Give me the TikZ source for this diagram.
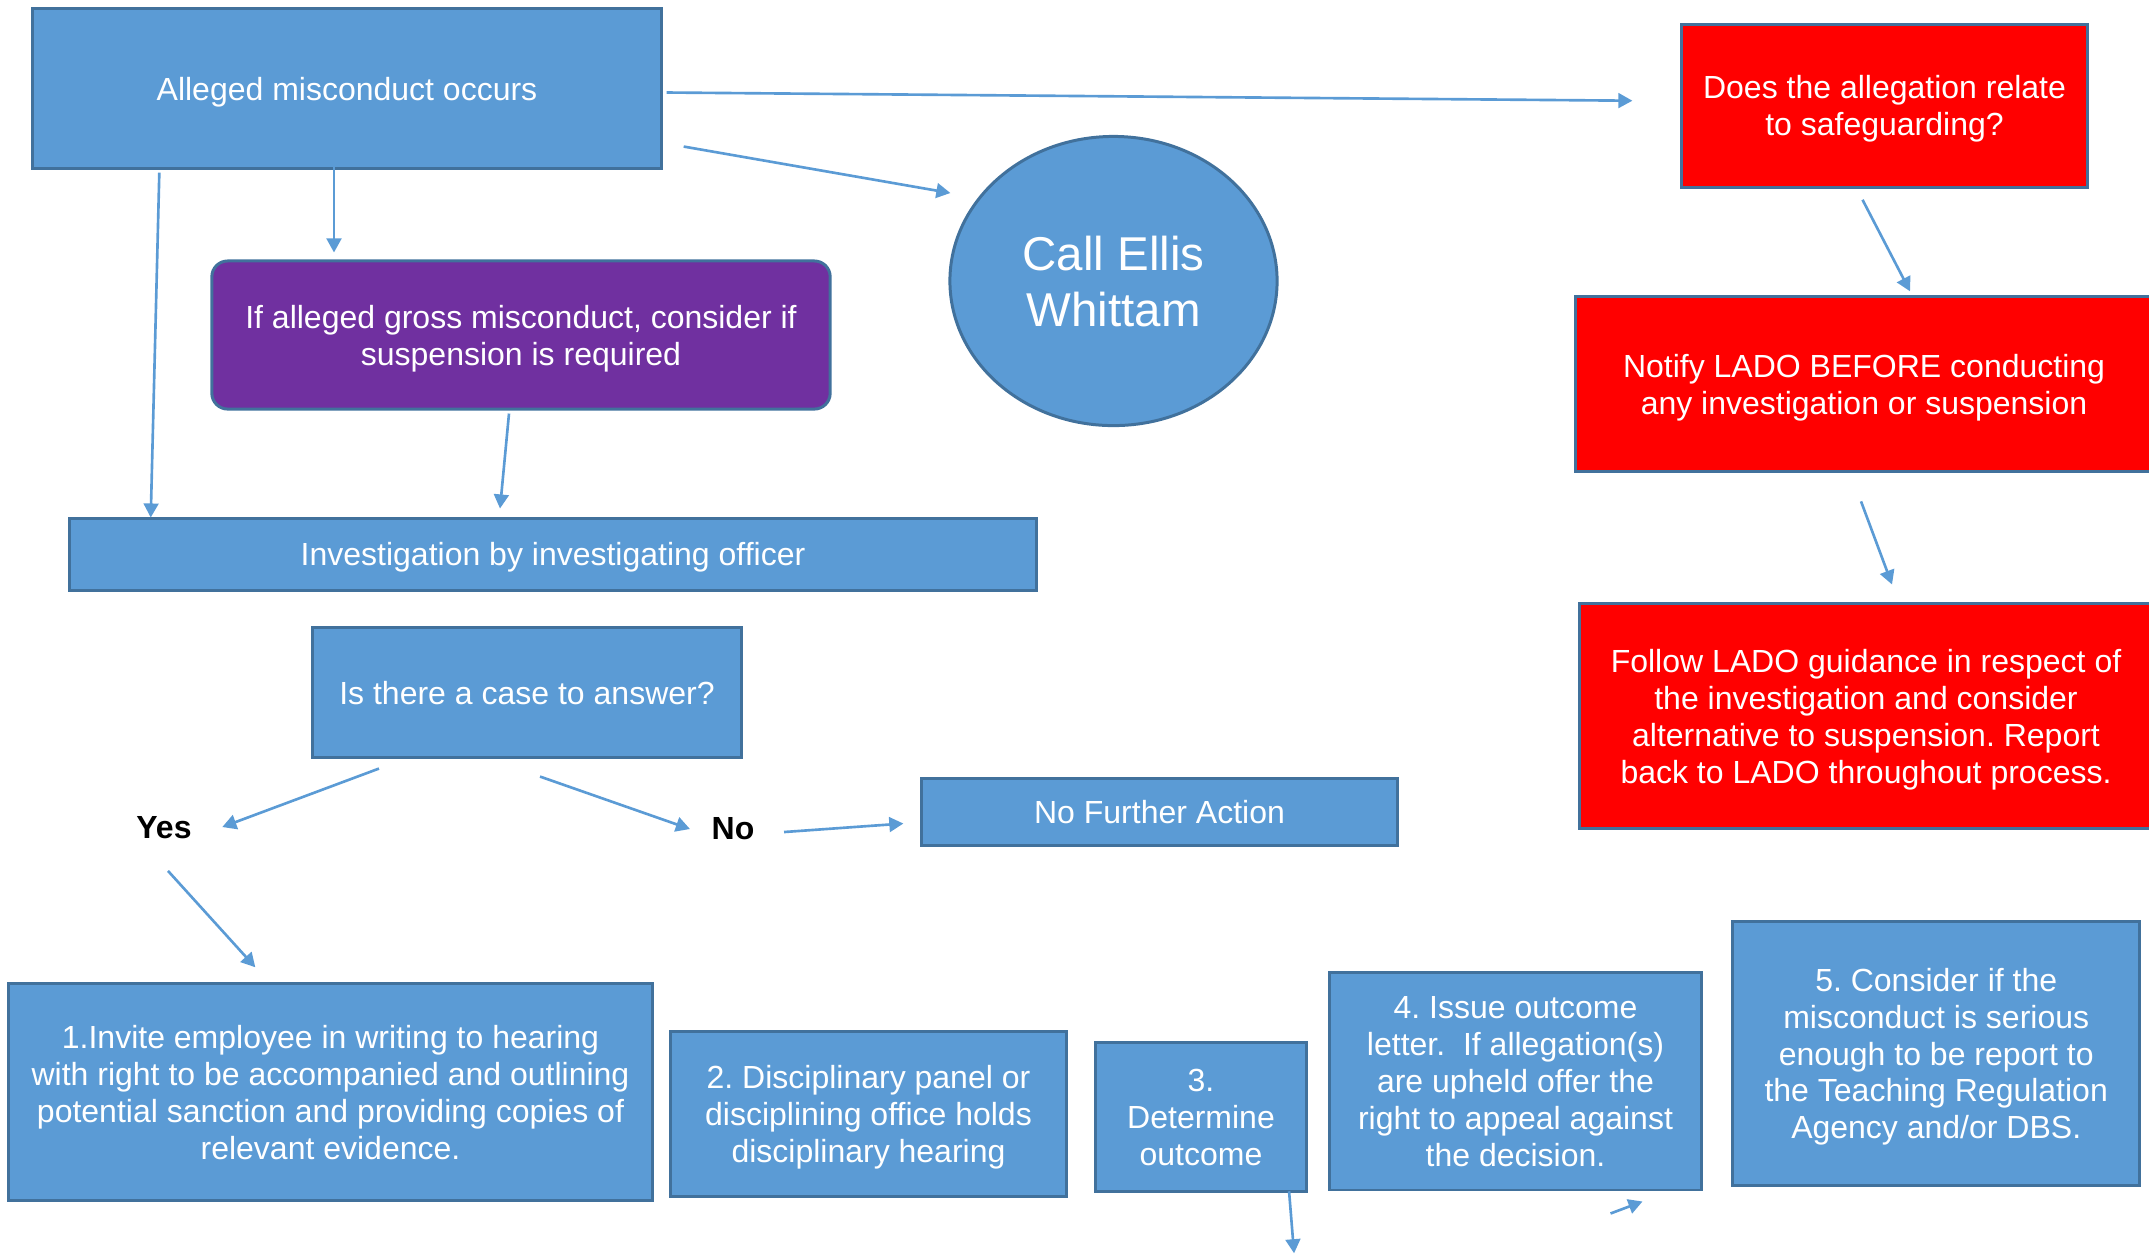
\documentclass[tikz,border=0pt]{standalone}
\usepackage{fontspec}
\setmainfont{Liberation Sans}
\usetikzlibrary{arrows.meta,calc,shapes.geometric}

\definecolor{boxblue}{HTML}{5B9BD5}
\definecolor{edgeblue}{HTML}{41719C}
\definecolor{gmpurple}{HTML}{7030A0}
\definecolor{ladored}{HTML}{FF0000}

\begin{document}
\begin{tikzpicture}[x=0.01cm,y=-0.01cm,
    txt/.style={font=\fontsize{9.1}{10.5}\selectfont\frenchspacing, text=white, align=center, text depth=0pt},
    bluebox/.style={txt, rectangle, draw=edgeblue, line width=0.85pt, fill=boxblue, inner sep=0pt},
    redbox/.style={bluebox, fill=ladored},
    arr/.style={-{Triangle[length=4pt,width=4.2pt]}, boxblue, line width=0.75pt},
    answer/.style={font=\fontsize{9.1}{10.5}\selectfont\bfseries, inner sep=0pt}]
    \useasboundingbox (0,0) rectangle (2149,1253);

    % top row
    \node[bluebox, minimum width=6.28cm, minimum height=1.59cm] (alleged) at (347,88.5) {Alleged misconduct occurs};
    \node[bluebox, fill=gmpurple, rounded corners=4.5pt, minimum width=6.18cm, minimum height=1.48cm] (gross) at (521,335)
        {If alleged gross misconduct, consider if\\suspension is required};
    \node[bluebox, minimum width=9.67cm, minimum height=0.72cm] (invest) at (553,554) {Investigation by investigating officer};
    \node[bluebox, ellipse, minimum width=3.27cm, minimum height=2.89cm, font=\fontsize{13.5}{16}\selectfont] (call) at (1113.5,281)
        {Call Ellis\\Whittam};

    % safeguarding column
    \node[redbox, minimum width=4.05cm, minimum height=1.63cm] (safe) at (1884.5,105.7)
        {Does the allegation relate\\to safeguarding?};
    \node[redbox, minimum width=5.76cm, minimum height=1.75cm] (notify) at (1864,384.3)
        {Notify LADO BEFORE conducting\\any investigation or suspension};
    \node[redbox, minimum width=5.72cm, minimum height=2.24cm] (follow) at (1866,716)
        {Follow LADO guidance in respect of\\the investigation and consider\\alternative to suspension. Report\\back to LADO throughout process.};

    % case to answer
    \node[bluebox, minimum width=4.28cm, minimum height=1.29cm] (case) at (527,692.5) {Is there a case to answer?};
    \node[answer] (yes) at (164,828) {Yes};
    \node[answer] (no) at (733,829) {No};
    \node[bluebox, minimum width=4.75cm, minimum height=0.67cm] (nfa) at (1159.5,811.5) {No Further Action};

    % hearing steps
    \node[bluebox, minimum width=6.43cm, minimum height=2.17cm] (s1) at (330.5,1092.3)
        {1.Invite employee in writing to hearing\\with right to be accompanied and outlining\\potential sanction and providing copies of\\relevant evidence.};
    \node[bluebox, minimum width=3.95cm, minimum height=1.64cm] (s2) at (868.5,1114)
        {2. Disciplinary panel or\\disciplining office holds\\disciplinary hearing};
    \node[bluebox, minimum width=2.11cm, minimum height=1.49cm] (s3) at (1201,1117.2)
        {3.\\Determine\\outcome};
    \node[bluebox, minimum width=3.71cm, minimum height=2.17cm] (s4) at (1515.5,1081.4)
        {4. Issue outcome\\letter.~ If allegation(s)\\are upheld offer the\\right to appeal against\\the decision.};
    \node[bluebox, minimum width=4.07cm, minimum height=2.63cm] (s5) at (1936.2,1053.4)
        {5. Consider if the\\misconduct is serious\\enough to be report to\\the Teaching Regulation\\Agency and/or DBS.};

    % connectors
    \draw[arr] ($(alleged.east)+(4,4)$) -- ($(safe.west)+(-48,-5)$);
    \draw[arr] ($(alleged.south east)+(21,-23)$) -- ($(call.west)+(2,-88)$);
    \draw[arr] ($(gross.north)+(-187,-94)$) -- ($(gross.north)+(-187,-7)$);
    \draw[arr] ($(alleged.south west)+(128,3)$) -- ($(invest.north west)+(83,1)$);
    \draw[arr] ($(gross.south)+(-12,3)$) -- ($(invest.north)+(-53,-8)$);

    \draw[arr] ($(safe.south)+(-22,11)$) -- ($(notify.north)+(46,-4)$);
    \draw[arr] ($(notify.south)+(-3,28)$) -- ($(follow.north)+(26,-18)$);

    \draw[arr] ($(case.south)+(-148,10)$) -- ($(yes.east)+(30,-1)$);
    \draw[arr] ($(case.south)+(13,18)$) -- ($(no.west)+(-21,0)$);
    \draw[arr] ($(no.east)+(29,3)$) -- ($(nfa.west)+(-17,12)$);
    \draw[arr] ($(yes.south)+(4,31)$) -- ($(s1.north west)+(248,-15)$);

    \coordinate (s3out) at ($(s3.south east)+(-14,60)$);
    \coordinate (s4tail) at ($(s4.south)+(95,22)$);
    \coordinate (s4head) at ($(s4.south)+(127,10)$);
    \draw[arr] ($(s3.south east)+(-19,-2)$) -- (s3out);
    \draw[arr] (s4tail) -- (s4head);
\end{tikzpicture}
\end{document}
